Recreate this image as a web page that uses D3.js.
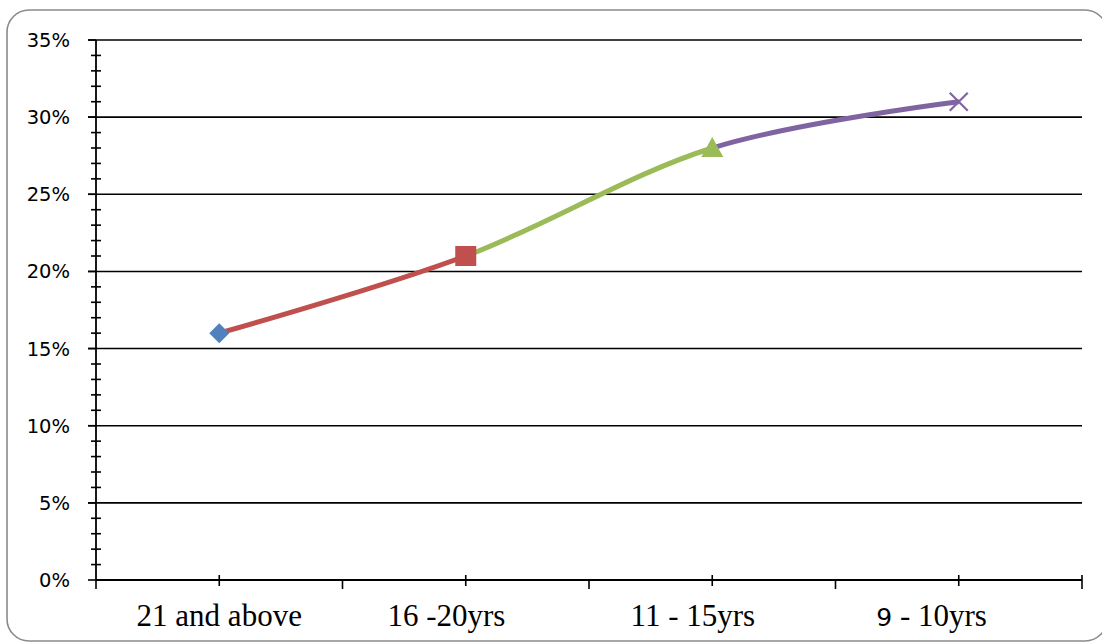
<!DOCTYPE html>
<html>
<head>
<meta charset="utf-8">
<script src="https://cdn.jsdelivr.net/npm/d3@7"></script>
<style>
  html, body { margin: 0; padding: 0; background: #fff; }
  svg { display: block; }
  text { white-space: pre; }
</style>
</head>
<body>
<svg id="chart" width="1102" height="643"></svg>
<script>
// Share by age group
const categories = ["21 and above", "16 -20yrs", "11 - 15yrs", "9 - 10yrs"];
// category labels as typed, including their trailing spaces
const tickLabels = ["21 and above", "16 -20yrs\u00A0\u00A0\u00A0\u00A0\u00A0", "11 - 15yrs\u00A0\u00A0\u00A0\u00A0\u00A0", "9 - 10yrs\u00A0\u00A0\u00A0\u00A0\u00A0\u00A0\u00A0"];
const values = [0.16, 0.21, 0.28, 0.31];
const yTicks = [0, 0.05, 0.10, 0.15, 0.20, 0.25, 0.30, 0.35];
const pointColors = ["#4F81BD", "#C0504D", "#9BBB59", "#8064A2"];
const markerShapes = ["diamond", "square", "triangle", "cross"];

const svg = d3.select("#chart");
const W = 1102, H = 643;
const m = { left: 96, right: 1082, top: 40, bottom: 580 };

// outer rounded frame
svg.append("rect")
  .attr("x", 7).attr("y", 10)
  .attr("width", 1100).attr("height", 631)
  .attr("rx", 22).attr("ry", 22)
  .attr("fill", "#fff")
  .attr("stroke", "#8a8a8a")
  .attr("stroke-width", 1.6);

const x = d3.scaleBand().domain(categories).range([m.left, m.right]).padding(0);
const y = d3.scaleLinear().domain([0, 0.35]).range([m.bottom, m.top]);
const cx = d => x(d) + x.bandwidth() / 2;

// horizontal gridlines
svg.append("g")
  .selectAll("line")
  .data(yTicks.filter(t => t > 0))
  .join("line")
  .attr("x1", m.left - 8).attr("x2", m.right)
  .attr("y1", d => y(d)).attr("y2", d => y(d))
  .attr("stroke", "#000").attr("stroke-width", 1.6);

// y axis with major and minor ticks
const yAxis = svg.append("g");
yAxis.append("line")
  .attr("x1", m.left).attr("x2", m.left)
  .attr("y1", m.top).attr("y2", m.bottom)
  .attr("stroke", "#000").attr("stroke-width", 1.8);
const minor = d3.range(0, 36).map(i => i / 100).filter(v => Math.round(v * 100) % 5 !== 0);
yAxis.selectAll("line.minor")
  .data(minor)
  .join("line")
  .attr("class", "minor")
  .attr("x1", m.left - 5).attr("x2", m.left + 5)
  .attr("y1", d => y(d)).attr("y2", d => y(d))
  .attr("stroke", "#000").attr("stroke-width", 1.6);
yAxis.selectAll("line.major")
  .data(yTicks)
  .join("line")
  .attr("class", "major")
  .attr("x1", m.left - 8).attr("x2", m.left)
  .attr("y1", d => y(d)).attr("y2", d => y(d))
  .attr("stroke", "#000").attr("stroke-width", 1.6);
yAxis.selectAll("text")
  .data(yTicks)
  .join("text")
  .attr("x", 70)
  .attr("y", d => y(d))
  .attr("dy", "0.36em")
  .attr("text-anchor", "end")
  .attr("font-family", "DejaVu Sans, sans-serif")
  .attr("font-size", 19.5)
  .attr("fill", "#000")
  .text(d => d3.format(".0%")(d));

// x axis
const xAxis = svg.append("g");
xAxis.append("line")
  .attr("x1", m.left).attr("x2", m.right)
  .attr("y1", m.bottom).attr("y2", m.bottom)
  .attr("stroke", "#000").attr("stroke-width", 1.8);
const bounds = categories.map(c => x(c)).concat([m.right]);
xAxis.selectAll("line.bound")
  .data(bounds)
  .join("line")
  .attr("class", "bound")
  .attr("x1", d => d).attr("x2", d => d)
  .attr("y1", (d, i) => i === bounds.length - 1 ? m.bottom - 5 : m.bottom)
  .attr("y2", m.bottom + 9)
  .attr("stroke", "#000").attr("stroke-width", 1.6);
xAxis.selectAll("line.center")
  .data(categories)
  .join("line")
  .attr("class", "center")
  .attr("x1", d => cx(d)).attr("x2", d => cx(d))
  .attr("y1", m.bottom - 5).attr("y2", m.bottom + 6)
  .attr("stroke", "#000").attr("stroke-width", 1.6);

const labels = xAxis.selectAll("text")
  .data(categories)
  .join("text")
  .attr("x", d => cx(d))
  .attr("y", 626)
  .attr("text-anchor", "middle")
  .attr("font-family", "Liberation Serif, Times New Roman, serif")
  .attr("font-size", 31)
  .attr("fill", "#000");
labels.each(function(d, i) {
  const t = d3.select(this);
  const label = tickLabels[i];
  if (label.startsWith("9 ")) {
    // leading digit set in the sans face
    t.append("tspan").attr("font-family", "DejaVu Sans, sans-serif").attr("font-size", 25).text(label.slice(0, 1));
    t.append("tspan").text(label.slice(1));
  } else {
    t.text(label);
  }
});

// smoothed line, each segment coloured by the point it leads into
const pts = categories.map((c, i) => [cx(c), y(values[i])]);
const line = d3.line().curve(d3.curveCardinal.tension(0));
const defs = svg.append("defs");
for (let i = 0; i < pts.length - 1; i++) {
  defs.append("clipPath").attr("id", "seg" + i)
    .append("rect")
    .attr("x", pts[i][0]).attr("y", 0)
    .attr("width", pts[i + 1][0] - pts[i][0]).attr("height", H);
  svg.append("path")
    .attr("d", line(pts))
    .attr("clip-path", `url(#seg${i})`)
    .attr("fill", "none")
    .attr("stroke", pointColors[i + 1])
    .attr("stroke-width", 5)
    .attr("stroke-linecap", "round");
}

// markers
const markers = svg.append("g");
pts.forEach((p, i) => {
  const g = markers.append("g").attr("transform", `translate(${p[0]},${p[1]})`);
  const c = pointColors[i];
  const s = markerShapes[i];
  if (s === "diamond") {
    g.append("path").attr("d", "M0,-10L10,0L0,10L-10,0Z").attr("fill", c);
  } else if (s === "square") {
    g.append("rect").attr("x", -10.5).attr("y", -10).attr("width", 21).attr("height", 20).attr("fill", c);
  } else if (s === "triangle") {
    g.append("path").attr("d", "M0,-11L11,9L-11,9Z").attr("fill", c);
  } else {
    g.append("path").attr("d", "M-9,-9L9,9M9,-9L-9,9").attr("stroke", c).attr("stroke-width", 2.2).attr("fill", "none");
  }
});
</script>
</body>
</html>
